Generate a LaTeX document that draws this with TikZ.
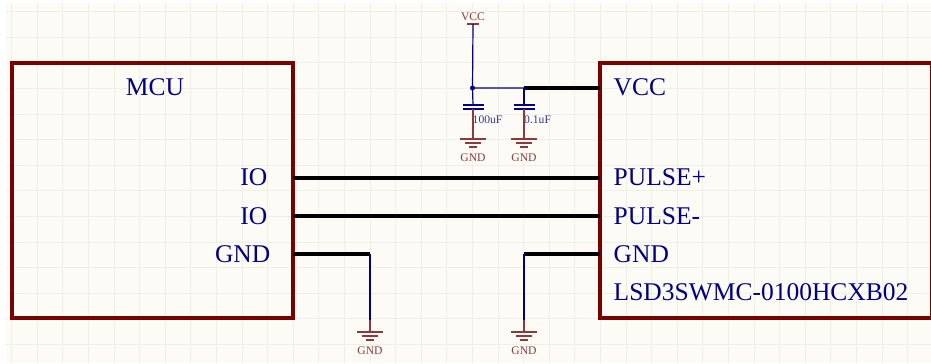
\documentclass[tikz,border=0pt]{standalone}
\usepackage{fontspec}
\setmainfont{Liberation Serif}
\tikzset{>=latex}
\definecolor{sheet}{HTML}{FDFBF6}
\definecolor{gridc}{HTML}{F1EEE8}
\definecolor{boxred}{HTML}{7A0000}
\definecolor{netblue}{HTML}{000080}
\definecolor{partred}{HTML}{8A3A3A}
\tikzset{
  chip/.style={draw=boxred,line width=0.04cm,inner sep=0pt,outer sep=0pt},
  pinlabel/.style={text=netblue,font=\fontsize{7.25pt}{8pt}\selectfont,inner sep=0pt},
  powerlabel/.style={text=partred,font=\fontsize{3.3pt}{4pt}\selectfont,inner sep=0pt},
  vallabel/.style={text=netblue!80!white,font=\fontsize{3.3pt}{4pt}\selectfont,inner sep=0pt},
  bus/.style={line width=0.04cm,black},
  net/.style={line width=0.012cm,netblue},
  part/.style={line width=0.012cm,partred},
  plate/.style={line width=0.014cm,netblue}
}
\begin{document}
\begin{tikzpicture}[x=0.01cm,y=-0.01cm]
    \useasboundingbox (0,0) rectangle (931,363);
    \fill[sheet] (6,3) rectangle (931,363);
    % grid
    \foreach \k in {0,...,35}
      \draw[gridc,line width=0.008cm] ({11.6+25.6*\k},3) -- ({11.6+25.6*\k},363);
    \foreach \k in {0,...,13}
      \draw[gridc,line width=0.008cm] (6,{11.6+25.6*\k}) -- (931,{11.6+25.6*\k});

    % the two parts
    \node[chip,minimum width=2.81cm,minimum height=2.55cm] (mcu) at (152.5,190.5) {};
    \node[chip,minimum width=3.32cm,minimum height=2.55cm] (lsd) at (766,190.5) {};
    \node[pinlabel] (mcuname) at (155,87) {MCU};
    \node[pinlabel,anchor=east] (mcuio1) at (268,177) {IO};
    \node[pinlabel,anchor=east] (mcuio2) at (268,216) {IO};
    \node[pinlabel,anchor=east] (mcugnd) at (271,254) {GND};
    \node[pinlabel,anchor=west] (lsdvcc) at (613,87) {VCC};
    \node[pinlabel,anchor=west] (lsdpp) at (613,177) {PULSE+};
    \node[pinlabel,anchor=west] (lsdpm) at (613,216) {PULSE-};
    \node[pinlabel,anchor=west] (lsdgnd) at (613,254) {GND};
    \node[pinlabel,anchor=west] (lsdname) at (613,292) {LSD3SWMC-0100HCXB02};

    % pins
    \coordinate (p1) at (293,178);
    \coordinate (p2) at (600,178);
    \coordinate (p3) at (293,216);
    \coordinate (p4) at (600,216);
    \coordinate (p5) at (293,254);
    \coordinate (p6) at (370,254);
    \coordinate (p7) at (600,254);
    \coordinate (p8) at (524,254);
    \coordinate (p9) at (600,88);
    \coordinate (p10) at (524,88);
    \draw[bus] (p1) -- (p2);
    \draw[bus] (p3) -- (p4);
    \draw[bus] (p5) -- (p6);
    \draw[bus] (p7) -- (p8);
    \draw[bus] (p9) -- (p10);

    % supply and capacitors
    \coordinate (vccbar) at (473,24);
    \coordinate (vccdot) at (472.5,88);
    \node[powerlabel] (vcctext) at (473,17) {VCC};
    \draw[part] (466.5,24) -- (478.5,24);
    \draw[net] (vccbar) -- (vccdot) -- (p10);
    \fill[netblue] (vccdot) circle (2.5);
    \coordinate (c1top) at (473,105);
    \coordinate (c1bot) at (473,109);
    \coordinate (c2top) at (524,105);
    \coordinate (c2bot) at (524,109);
    \draw[net] (vccdot) -- (c1top);
    \draw[net] (p10) -- (c2top);
    \foreach \n in {c1,c2} {
      \draw[plate] (\n top) ++(-10.5,0) -- ++(21,0);
      \draw[plate] (\n bot) ++(-10.5,0) -- ++(21,0);
    }
    \node[vallabel,anchor=west] (c1val) at (472,120) {100uF};
    \node[vallabel,anchor=west] (c2val) at (523.5,120) {0.1uF};

    % ground symbols
    \coordinate (g1) at (473,139);
    \coordinate (g2) at (524,139);
    \coordinate (g3) at (370,332);
    \coordinate (g4) at (524,332);
    \draw[part] (c1bot) -- (g1);
    \draw[part] (c2bot) -- (g2);
    \draw[net] (p6) -- (370,320);
    \draw[part] (370,320) -- (g3);
    \draw[net] (p8) -- (524,320);
    \draw[part] (524,320) -- (g4);
    \foreach \g in {g1,g2,g3,g4} {
      \draw[part] (\g) ++(-13,0) -- ++(26,0);
      \draw[part] (\g) ++(-8,4) -- ++(16,0);
      \draw[part] (\g) ++(-4,8) -- ++(8,0);
      \node[powerlabel] (\g text) at ([yshift=-0.19cm]\g) {GND};
    }
  \end{tikzpicture}
\end{document}
